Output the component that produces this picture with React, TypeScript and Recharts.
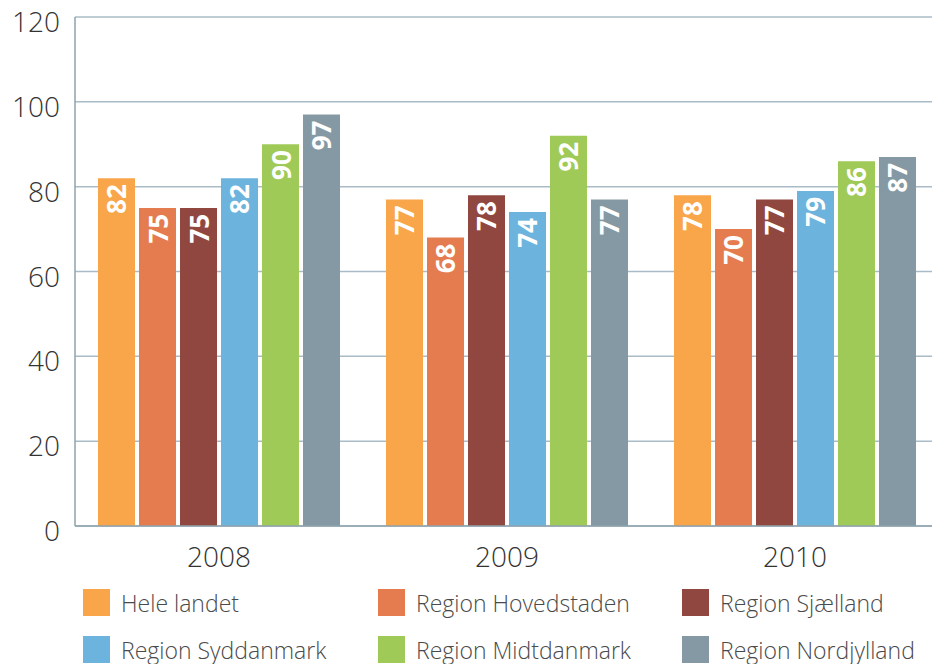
import React from 'react';
import { BarChart, Bar, XAxis, YAxis, CartesianGrid } from 'recharts';

const years = ['2008', '2009', '2010'];
const seriesNames = ['Hele landet', 'Region Hovedstaden', 'Region Sjælland', 'Region Syddanmark', 'Region Midtdanmark', 'Region Nordjylland'];
const heleLandet = [82, 77, 78];
const hovedstaden = [75, 68, 70];
const sjaelland = [75, 78, 77];
const syddanmark = [82, 74, 79];
const midtdanmark = [90, 92, 86];
const nordjylland = [97, 77, 87];
const yTicks = [0, 20, 40, 60, 80, 100, 120];
const colors = ['#F9A54A', '#E57C50', '#8F473F', '#6CB4DD', '#A0CA58', '#8599A4'];

const keys = ['s0', 's1', 's2', 's3', 's4', 's5'];
const allSeries = [heleLandet, hovedstaden, sjaelland, syddanmark, midtdanmark, nordjylland];
const data = years.map((y, i) => {
  const row: any = { year: y };
  keys.forEach((k, j) => { row[k] = allSeries[j][i]; });
  return row;
});

const FONT = '"Open Sans", "DejaVu Sans", sans-serif';

const YTick = (props: any) => {
  const { x, y, payload } = props;
  return (
    <text x={x} y={y + 15} textAnchor="end" fontSize={28} fontWeight={300} fill="#333" fontFamily={FONT}>
      {payload.value}
    </text>
  );
};

const XTick = (props: any) => {
  const { x, y, payload } = props;
  return (
    <text x={x} y={y + 41} textAnchor="middle" fontSize={28} fontWeight={300} fill="#333" fontFamily={FONT}>
      {payload.value}
    </text>
  );
};

const BarLabel = (props: any) => {
  const { x, y, width, value } = props;
  const cx = x + width / 2;
  const ty = y + 6;
  return (
    <text
      x={cx}
      y={ty}
      transform={`rotate(-90, ${cx}, ${ty})`}
      textAnchor="end"
      dominantBaseline="central"
      fill="#fff"
      fontWeight="bold"
      fontSize={26}
      fontFamily={FONT}
    >
      {value}
    </text>
  );
};

const legendPos = [
  { left: 75, top: 0 },
  { left: 370, top: 0 },
  { left: 674, top: 0 },
  { left: 75, top: 47 },
  { left: 370, top: 47 },
  { left: 674, top: 47 },
];

export default function App() {
  return (
    <div style={{ position: 'relative', width: 932, height: 656 }}>
      <style>{'.recharts-surface{overflow:visible}'}</style>
      <BarChart
        width={932}
        height={656}
        data={data}
        margin={{ top: 9, right: 1, left: 0, bottom: 88 }}
        barCategoryGap={23}
        barGap={4}
      >
        <CartesianGrid vertical={false} stroke="#A9BBC6" strokeWidth={1.5} />
        <XAxis
          dataKey="year"
          axisLine={{ stroke: '#8FA3AD', strokeWidth: 1.5 }}
          tickLine={false}
          tickSize={0}
          tickMargin={0}
          tick={<XTick />}
          height={50}
        />
        <YAxis
          domain={[0, 120]}
          ticks={yTicks}
          width={67}
          axisLine={{ stroke: '#8FA3AD', strokeWidth: 1.5 }}
          tickLine={false}
          tickSize={0}
          tickMargin={15}
          tick={<YTick />}
          interval={0}
        />
        {keys.map((k, i) => (
          <Bar key={k} dataKey={k} name={seriesNames[i]} fill={colors[i]} isAnimationActive={false} label={<BarLabel />} />
        ))}
      </BarChart>
      <div style={{ position: 'absolute', left: 0, top: 581, width: 932, height: 75 }}>
        {seriesNames.map((n, i) => (
          <div key={n} style={{ position: 'absolute', left: legendPos[i].left, top: legendPos[i].top, height: 27, display: 'flex', alignItems: 'center' }}>
            <div style={{ width: 27, height: 27, background: colors[i] }} />
            <span style={{ marginLeft: 11, fontSize: 23, fontWeight: 300, color: '#4a4a4a', fontFamily: FONT, whiteSpace: 'nowrap', lineHeight: '26px' }}>{n}</span>
          </div>
        ))}
      </div>
    </div>
  );
}
